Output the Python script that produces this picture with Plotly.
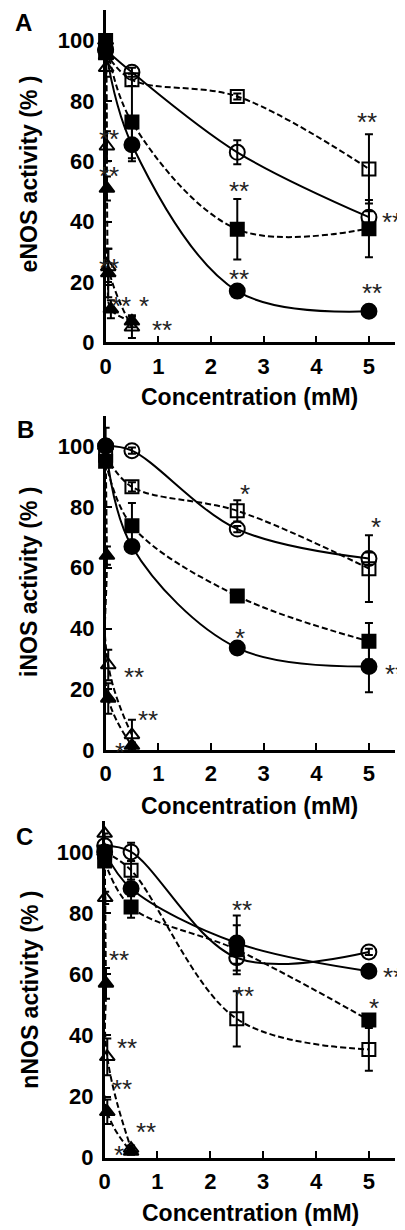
import plotly.graph_objects as go

# ---------------- data ----------------
conc = [0, 0.5, 2.5, 5]
x_ticks = [0, 1, 2, 3, 4, 5]
y_ticks = [0, 20, 40, 60, 80, 100]

# Panel A: eNOS
A_fc = [97, 65.5, 17, 10.3];   A_fc_err = [0, 5.5, 1, 1]
A_oc = [97, 89.5, 63, 41.5];   A_oc_err = [0, 1.5, 4, 2]
A_fs = [100, 73, 37.5, 37.7];  A_fs_err = [0, 12, 10, 9.5]
A_os = [96, 87, 81.5, 57.5];   A_os_err = [0, 2, 1, 11.5]
A_ft_x = [0, 0.01, 0.025, 0.05, 0.1, 0.5]; A_ft = [100, 95, 51, 23, 11, 7]; A_ft_err = [0, 2, 4, 8, 3, 2]
A_ot_x = [0, 0.01, 0.025, 0.05, 0.5];      A_ot = [100, 91, 65, 25, 5];     A_ot_err = [0, 3, 5, 6, 3.5]
A_star_x = [2.53, 4.97, 5.43, 2.53, 5.06, 0.06, 0.06, 0.06, 0.3, 0.72, 1.07]
A_star_y = [52, 75, 42, 23, 18.5, 69.5, 57, 26.5, 14, 14, 6]
A_star_t = ["**", "**", "**", "**", "**", "**", "**", "**", "**", "*", "**"]

# Panel B: iNOS
B_fc = [100, 67, 33.6, 27.5];  B_fc_err = [0, 1, 2, 8.5]
B_oc = [100, 98.5, 72.7, 63];  B_oc_err = [6, 1, 1, 2]
B_fs = [95, 73.8, 50.7, 35.8]; B_fs_err = [0, 7.5, 1, 6]
B_os = [97, 86.6, 78.7, 59.7]; B_os_err = [0, 1.5, 3.5, 11]
B_ft_x = [0, 0.025, 0.05, 0.5]; B_ft = [100, 64, 17, 1.5]; B_ft_err = [0, 3, 5, 1]
B_ot_x = [0, 0.05, 0.5];        B_ot = [100, 28, 5];        B_ot_err = [0, 5, 5]
B_star_x = [2.65, 5.13, 2.55, 5.5, 0.54, 0.8, 0.28]
B_star_y = [86.3, 75.5, 39, 27, 26, 12, 1.5]
B_star_t = ["*", "*", "*", "**", "**", "**", "*"]

# Panel C: nNOS
C_fc = [100, 88, 70.2, 61];    C_fc_err = [0, 2, 9, 1]
C_oc = [102, 100, 65.4, 67.3]; C_oc_err = [0, 3, 2, 1]
C_fs = [97, 82, 68, 45];       C_fs_err = [0, 3.5, 8, 1]
C_os = [100, 94, 45.4, 35.4];  C_os_err = [0, 3, 9, 7]
C_ft_x = [0, 0.025, 0.05, 0.5]; C_ft = [100, 57, 15, 2];  C_ft_err = [0, 5, 4, 1]
C_ot_x = [0, 0.01, 0.05, 0.5];  C_ot = [106, 85, 33, 3];  C_ot_err = [0, 2, 6, 1]
C_star_x = [2.6, 5.46, 2.64, 5.1, 5.59, 0.28, 0.42, 0.33, 0.79, 0.28]
C_star_y = [83, 61, 54.8, 50.8, 35.4, 66.7, 37.9, 24.4, 10.4, 3]
C_star_t = ["**", "**", "**", "*", "**", "**", "**", "**", "**", "*"]

panel_letters = ["A", "B", "C"]
y_titles = ["eNOS activity (% )", "iNOS activity (% )", "nNOS activity (% )"]
x_title = "Concentration (mM)"

# ---------------- figure ----------------
FONT = "Liberation Sans, Arial, sans-serif"
fig = go.Figure()

panels = [
    dict(fc=(conc, A_fc, A_fc_err), oc=(conc, A_oc, A_oc_err), fs=(conc, A_fs, A_fs_err),
         os=(conc, A_os, A_os_err), ft=(A_ft_x, A_ft, A_ft_err), ot=(A_ot_x, A_ot, A_ot_err),
         stars=(A_star_x, A_star_y, A_star_t)),
    dict(fc=(conc, B_fc, B_fc_err), oc=(conc, B_oc, B_oc_err), fs=(conc, B_fs, B_fs_err),
         os=(conc, B_os, B_os_err), ft=(B_ft_x, B_ft, B_ft_err), ot=(B_ot_x, B_ot, B_ot_err),
         stars=(B_star_x, B_star_y, B_star_t)),
    dict(fc=(conc, C_fc, C_fc_err), oc=(conc, C_oc, C_oc_err), fs=(conc, C_fs, C_fs_err),
         os=(conc, C_os, C_os_err), ft=(C_ft_x, C_ft, C_ft_err), ot=(C_ot_x, C_ot, C_ot_err),
         stars=(C_star_x, C_star_y, C_star_t)),
]

styles = [
    ("oc", "circle-open", 15, "solid"),
    ("fc", "circle", 15, "solid"),
    ("os", "square-open", 13, "6px,3px"),
    ("fs", "square", 13, "6px,3px"),
    ("ot", "triangle-up-open", 13, "6px,3px"),
    ("ft", "triangle-up", 13, "6px,3px"),
]

x_domains = [[0.2296, 0.9556], [0.2296, 0.9556], [0.2272, 0.9556]]
y_domains = [[0.7252, 0.9980], [0.3902, 0.6650], [0.0553, 0.3317]]
xt_pos = [(0.590, 0.6805), (0.590, 0.3439), (0.5926, 0.0098)]
yt_pos = [(0.038, 0.8634), (0.038, 0.5285), (0.038, 0.1935)]
let_pos = [(0.0247, 0.9878), (0.0296, 0.6537), (0.0272, 0.3195)]

annotations = []
for i, p in enumerate(panels):
    sfx = "" if i == 0 else str(i + 1)
    xr, yr = "x" + sfx, "y" + sfx
    for key, sym, size, dash in styles:
        xs, ys, es = p[key]
        fig.add_trace(go.Scatter(
            x=xs, y=ys, xaxis=xr, yaxis=yr, mode="lines+markers",
            line=dict(color="black", width=2, dash=dash, shape="spline", smoothing=1),
            marker=dict(symbol=sym, size=size, color="black", line=dict(color="black", width=2)),
            error_y=dict(type="data", array=es, visible=True, color="black", thickness=2, width=4),
            cliponaxis=False, showlegend=False, hoverinfo="skip"))
    sx, sy, st = p["stars"]
    for a, b, t in zip(sx, sy, st):
        annotations.append(dict(x=a, y=b, xref=xr, yref=yr, text=t, showarrow=False,
                                font=dict(family=FONT, size=26, color="#222222"),
                                xanchor="center", yanchor="middle", yshift=-6))
    fig.layout["xaxis" + sfx] = dict(
        domain=x_domains[i], anchor=yr, range=[0, 5.5], tickvals=x_ticks,
        ticks="inside", ticklen=7, tickwidth=2, tickcolor="black",
        showline=True, linewidth=2.5, linecolor="black", showgrid=False, zeroline=False,
        tickfont=dict(family=FONT, size=22, color="black", weight="bold"),
        ticklabelstandoff=2)
    fig.layout["yaxis" + sfx] = dict(
        domain=y_domains[i], anchor=xr, range=[0, 110], tickvals=y_ticks,
        ticks="inside", ticklen=7, tickwidth=2, tickcolor="black",
        showline=True, linewidth=2.5, linecolor="black", showgrid=False, zeroline=False,
        tickfont=dict(family=FONT, size=22, color="black", weight="bold"),
        ticklabelstandoff=4)
    annotations.append(dict(x=xt_pos[i][0], y=xt_pos[i][1], xref="paper", yref="paper",
                            text=x_title, showarrow=False, xanchor="center", yanchor="middle",
                            font=dict(family=FONT, size=23, color="black", weight="bold")))
    annotations.append(dict(x=yt_pos[i][0], y=yt_pos[i][1], xref="paper", yref="paper",
                            text=y_titles[i], showarrow=False, textangle=-90,
                            xanchor="center", yanchor="middle",
                            font=dict(family=FONT, size=23, color="black", weight="bold")))
    annotations.append(dict(x=let_pos[i][0], y=let_pos[i][1], xref="paper", yref="paper",
                            text=panel_letters[i], showarrow=False, xanchor="center", yanchor="middle",
                            font=dict(family=FONT, size=24, color="black", weight="bold")))

fig.update_layout(width=405, height=1230, margin=dict(l=0, r=0, t=0, b=0),
                  plot_bgcolor="white", paper_bgcolor="white", annotations=annotations)
fig.write_html("out.html")
